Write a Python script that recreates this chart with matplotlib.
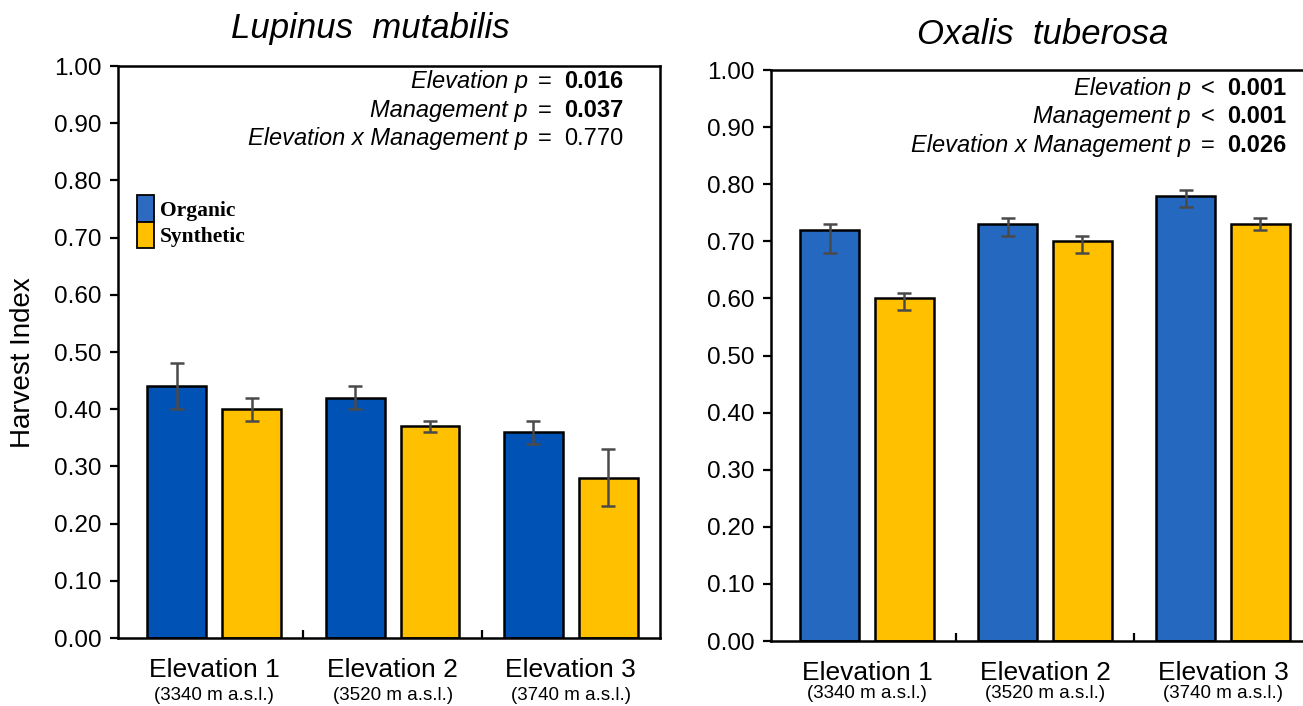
import numpy as np
import matplotlib
matplotlib.use("Agg")
import matplotlib.pyplot as plt
from matplotlib.patches import Patch

plt.rcParams['font.family'] = ['Liberation Sans', 'DejaVu Sans']

# Data
elevations = ["Elevation 1", "Elevation 2", "Elevation 3"]
altitudes = ["(3340 m a.s.l.)", "(3520 m a.s.l.)", "(3740 m a.s.l.)"]

lup_org = [0.44, 0.42, 0.36]
lup_org_lo = [0.40, 0.40, 0.34]
lup_org_hi = [0.48, 0.44, 0.38]
lup_syn = [0.40, 0.37, 0.28]
lup_syn_lo = [0.38, 0.36, 0.23]
lup_syn_hi = [0.42, 0.38, 0.33]

oxa_org = [0.72, 0.73, 0.78]
oxa_org_lo = [0.68, 0.71, 0.76]
oxa_org_hi = [0.73, 0.74, 0.79]
oxa_syn = [0.60, 0.70, 0.73]
oxa_syn_lo = [0.58, 0.68, 0.72]
oxa_syn_hi = [0.61, 0.71, 0.74]

lup_stats = [("Elevation p", "=", "0.016", True),
             ("Management p", "=", "0.037", True),
             ("Elevation x Management p", "=", "0.770", False)]
oxa_stats = [("Elevation p", "<", "0.001", True),
             ("Management p", "<", "0.001", True),
             ("Elevation x Management p", "=", "0.026", True)]

YELLOW = "#FFC000"
ERR = "#4a4a4a"


def draw_panel(ax, org, org_lo, org_hi, syn, syn_lo, syn_hi, blue, label_off):
    x = np.arange(len(elevations)) + 0.5
    off, w = 0.21, 0.33
    ax.bar(x - off, org, w, color=blue, edgecolor="black", linewidth=1.8, zorder=2)
    ax.bar(x + off, syn, w, color=YELLOW, edgecolor="black", linewidth=1.8, zorder=2)
    org, syn = np.array(org), np.array(syn)
    ax.errorbar(x - off, org, yerr=[org - np.array(org_lo), np.array(org_hi) - org],
                fmt="none", ecolor=ERR, elinewidth=1.8, capsize=5, capthick=1.8, zorder=3)
    ax.errorbar(x + off, syn, yerr=[syn - np.array(syn_lo), np.array(syn_hi) - syn],
                fmt="none", ecolor=ERR, elinewidth=1.8, capsize=5, capthick=1.8, zorder=3)

    ticks = np.arange(0, 1.01, 0.1)
    ax.set_ylim(0, 1.0)
    ax.set_yticks(ticks)
    ax.set_yticklabels([f"{v:.2f}" for v in ticks], fontsize=17.5)
    ax.tick_params(axis="y", direction="out", length=6, width=1.6, pad=6)
    ax.set_xlim(-0.04, 3.0)
    ax.set_xticks([1, 2])
    ax.set_xticklabels([])
    ax.tick_params(axis="x", direction="in", length=6, width=1.6)
    for s in ax.spines.values():
        s.set_linewidth(1.8)
    for i, (e, a) in enumerate(zip(elevations, altitudes)):
        ax.text(x[i], -0.068, e, ha="center", va="baseline", fontsize=19,
                transform=ax.get_xaxis_transform())
        ax.text(x[i], label_off, a, ha="center", va="baseline", fontsize=13.5,
                transform=ax.get_xaxis_transform())
    return x


fig = plt.figure(figsize=(13.03, 7.06), dpi=100)
ax1 = fig.add_axes([0.0906, 0.0963, 0.4159, 0.8102])
ax2 = fig.add_axes([0.5917, 0.0920, 0.4152, 0.8088])

draw_panel(ax1, lup_org, lup_org_lo, lup_org_hi, lup_syn, lup_syn_lo, lup_syn_hi,
           "#0052B4", -0.108)
draw_panel(ax2, oxa_org, oxa_org_lo, oxa_org_hi, oxa_syn, oxa_syn_lo, oxa_syn_hi,
           "#2468BF", -0.1)
ax2.spines["right"].set_visible(False)

fig.text(370 / 1303, 1 - 38 / 706, "Lupinus  mutabilis", ha="center", va="baseline",
         fontsize=25, style="italic")
fig.text(1043 / 1303, 1 - 44 / 706, "Oxalis  tuberosa", ha="center", va="baseline",
         fontsize=25, style="italic")
fig.text(23 / 1303, 1 - 363 / 706, "Harvest Index", ha="center", va="center",
         rotation=90, fontsize=20)


def stats_text(ax, stats, xsign, ys):
    for (lab, sign, val, bold), y in zip(stats, ys):
        ax.text(xsign - 0.032, y, lab, ha="right", va="baseline", fontsize=17,
                style="italic", transform=ax.transAxes)
        ax.text(xsign, y, sign, ha="center", va="baseline", fontsize=17,
                transform=ax.transAxes)
        ax.text(xsign + 0.036, y, val, ha="left", va="baseline", fontsize=17,
                fontweight="bold" if bold else "normal", transform=ax.transAxes)


stats_text(ax1, lup_stats, 0.788, [0.9615, 0.911, 0.862])
stats_text(ax2, oxa_stats, 0.808, [0.956, 0.907, 0.856])

handles = [Patch(facecolor="#2D6BC0", edgecolor="black", linewidth=1.3),
           Patch(facecolor=YELLOW, edgecolor="black", linewidth=1.3)]
ax1.legend(handles, ["Organic", "Synthetic"], loc="upper left",
           bbox_to_anchor=(0.008, 0.8), frameon=False, handlelength=0.75,
           handleheight=1.5, labelspacing=0.0, handletextpad=0.3, borderpad=0.2,
           prop={"family": "Liberation Serif", "weight": "bold", "size": 15.5})

fig.savefig("out.png", dpi=100)
